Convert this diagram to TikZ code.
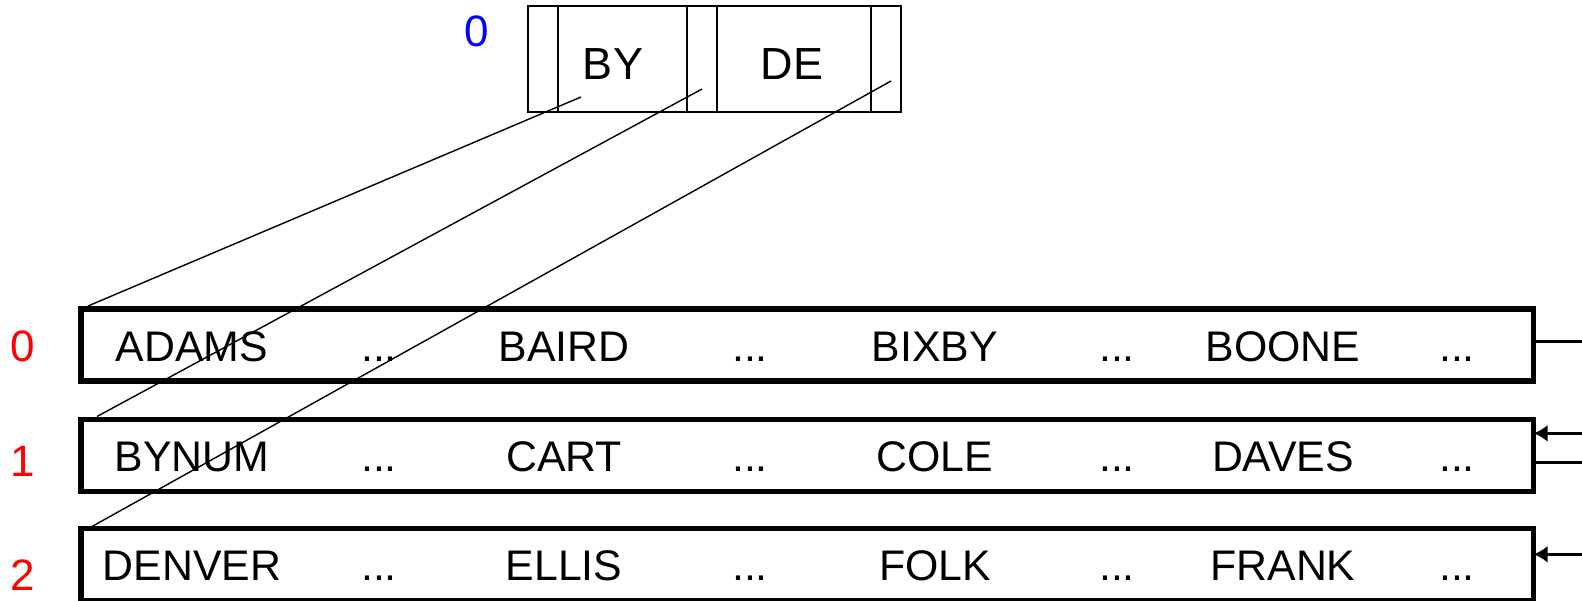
\documentclass[tikz,border=0pt]{standalone}
\usepackage{fontspec}
\setmainfont{Liberation Sans}
\usetikzlibrary{arrows.meta}

\tikzset{
  entry/.style={inner sep=0pt, anchor=base, font=\fontsize{21.4}{25}\selectfont},
  numlabel/.style={inner sep=0pt, font=\fontsize{22}{26}\selectfont},
  blockbox/.style={draw, line width=2.75pt, inner sep=0pt, outer sep=0pt,
    minimum width=726.25pt, minimum height=36pt},
  indexbox/.style={draw, line width=0.75pt, inner sep=0pt, outer sep=0pt,
    minimum width=186.5pt, minimum height=53pt},
}

\begin{document}
\begin{tikzpicture}[x=0.5pt,y=-0.5pt,>={Latex[length=7pt,width=8.5pt]}]
  \useasboundingbox (0,0) rectangle (1582,600);

  % index block with two separators
  \node[indexbox] (root) at (714.5,59) {};
  \foreach \dx in {15pt,79.5pt,94.5pt,171.5pt}
    \draw[line width=0.75pt] ([xshift=\dx]root.north west) -- ([xshift=\dx]root.south west);
  \node[entry, font=\fontsize{22.5}{26}\selectfont] (sepBY) at (613,79) {BY};
  \node[entry, font=\fontsize{22.5}{26}\selectfont] (sepDE) at (792,79) {DE};
  \node[numlabel, blue] (rootnum) at (477,31) {0};

  % sequence set blocks
  \foreach \r/\y/\a/\b/\c/\d in {
    0/345/ADAMS/BAIRD/BIXBY/BOONE,
    1/455.5/BYNUM/CART/COLE/DAVES,
    2/564.5/DENVER/ELLIS/FOLK/FRANK}{
    \node[blockbox] (b\r) at (807.25,\y) {};
    \node[numlabel, red] (n\r) at (23,{\y+1+5*\r}) {\r};
    \node[entry] (k\r1) at (192,{\y+16}) {\a};
    \node[entry] (k\r2) at (564,{\y+16}) {\b};
    \node[entry] (k\r3) at (935,{\y+16}) {\c};
    \node[entry] (k\r4) at (1283,{\y+16}) {\d};
    \foreach \x [count=\i] in {379,750,1117,1457}
      \node[entry] (d\r\i) at (\x,{\y+16}) {...};
  }

  % pointers from the index block down to the blocks
  \coordinate (p0) at (581,97);
  \coordinate (p1) at (702,89);
  \coordinate (p2) at (891,81);
  \draw[line width=0.7pt] (p0) -- ([shift={(3.5pt,1.5pt)}]b0.north west);
  \draw[line width=0.7pt] (p1) -- ([shift={(8pt,1.5pt)}]b1.north west);
  \draw[line width=0.7pt] (p2) -- ([shift={(5.5pt,1pt)}]b2.north west);

  % links between the blocks, leaving at the right
  \coordinate (e0) at (1582,341.7);
  \coordinate (e1) at (1582,433.3);
  \coordinate (f1) at (1582,462.7);
  \coordinate (e2) at (1582,554.3);
  \draw[line width=1.5pt] (b0.east |- e0) -- (e0);
  \draw[->,line width=1.5pt] (e1) -- (b1.east |- e1);
  \draw[line width=1.5pt] (b1.east |- f1) -- (f1);
  \draw[->,line width=1.5pt] (e2) -- (b2.east |- e2);
\end{tikzpicture}
\end{document}
